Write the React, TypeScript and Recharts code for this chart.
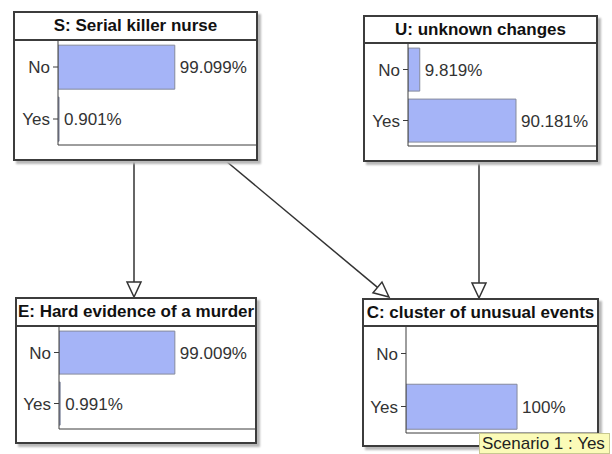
import React from "react";
import { BarChart, Bar, XAxis, YAxis, LabelList } from "recharts";

const states = ["No", "Yes"];

const serialKiller = [99.099, 0.901];
const unknownChanges = [9.819, 90.181];
const hardEvidence = [99.009, 0.991];
const clusterEvents = [0, 100];

const titles = [
    "S: Serial killer nurse",
    "U: unknown changes",
    "E: Hard evidence of a murder",
    "C: cluster of unusual events",
];

// upper end of each node's value axis (leaves room for the % label)
const axisMax = [168, 157, 167.5, 172];

const scenarioText = "Scenario 1 : Yes";

const FONT = "'Liberation Sans', Arial, sans-serif";
const BORDER = 2;

// box geometry: left, top, right, title bottom, y axis x, plot bottom, bottom
const boxes = [
    { left: 13, top: 11, right: 258, titleBottom: 41, axisX: 58, plotBottom: 145, bottom: 161 },
    { left: 363, top: 15, right: 598, titleBottom: 44, axisX: 408, plotBottom: 146, bottom: 162 },
    { left: 15, top: 297, right: 257, titleBottom: 327, axisX: 59, plotBottom: 429, bottom: 444 },
    { left: 362, top: 298, right: 599, titleBottom: 327, axisX: 406, plotBottom: 433, bottom: 447 },
];

const edges = [
    { x1: 134, y1: 161, x2: 134, y2: 297 },
    { x1: 226, y1: 161, x2: 389, y2: 297 },
    { x1: 479, y1: 162, x2: 479, y2: 298 },
];

const makeData = (values: number[]) =>
    states.map((s, i) => ({ state: s, value: values[i] }));

const Node = (props: { index: number; values: number[] }) => {
    const b = boxes[props.index];
    const w = b.right - b.left;
    const h = b.bottom - b.top;
    const innerW = w - BORDER * 2;
    const titleH = b.titleBottom - b.top - BORDER;
    const chartH = b.plotBottom - b.titleBottom + 1;

    return (
        <div
            style={{
                position: "absolute",
                left: b.left,
                top: b.top,
                width: w,
                height: h,
                boxSizing: "border-box",
                border: `${BORDER}px solid #3c3c3c`,
                background: "#fff",
                boxShadow: "3px 3px 2px #b8b8b8",
            }}
        >
            <div
                style={{
                    height: titleH,
                    boxSizing: "border-box",
                    borderBottom: `${BORDER}px solid #3c3c3c`,
                    fontFamily: FONT,
                    fontWeight: "bold",
                    fontSize: 17,
                    lineHeight: `${titleH - BORDER}px`,
                    textAlign: "center",
                    color: "#111",
                    whiteSpace: "nowrap",
                }}
            >
                {titles[props.index]}
            </div>
            <BarChart
                width={innerW}
                height={chartH}
                data={makeData(props.values)}
                layout="vertical"
                margin={{ top: 0, right: 0, bottom: 0, left: 0 }}
                barCategoryGap="8%"
            >
                <XAxis
                    type="number"
                    domain={[0, axisMax[props.index]]}
                    allowDataOverflow
                    tick={false}
                    tickLine={false}
                    height={1}
                    axisLine={{ stroke: "#3c3c3c" }}
                />
                <YAxis
                    type="category"
                    dataKey="state"
                    width={b.axisX - b.left - BORDER}
                    tickSize={5}
                    tickMargin={3}
                    axisLine={{ stroke: "#3c3c3c" }}
                    tickLine={{ stroke: "#3c3c3c" }}
                    tick={{ fill: "#333", fontSize: 17, fontFamily: FONT }}
                />
                <Bar
                    dataKey="value"
                    fill="#a5b4f7"
                    stroke="#858a9c"
                    strokeWidth={1}
                    isAnimationActive={false}
                >
                    <LabelList
                        dataKey="value"
                        position="right"
                        offset={5}
                        fill="#333"
                        fontSize={17}
                        fontFamily={FONT}
                        formatter={(v: any) => (Number(v) > 0 ? `${v}%` : "")}
                    />
                </Bar>
            </BarChart>
        </div>
    );
};

const Arrow = (props: { x1: number; y1: number; x2: number; y2: number }) => {
    const { x1, y1, x2, y2 } = props;
    const len = Math.hypot(x2 - x1, y2 - y1);
    const ux = (x2 - x1) / len;
    const uy = (y2 - y1) / len;
    const headLen = 15;
    const half = 7;
    const bx = x2 - ux * headLen;
    const by = y2 - uy * headLen;
    const pts = [
        [x2, y2],
        [bx - uy * half, by + ux * half],
        [bx + uy * half, by - ux * half],
    ]
        .map((p) => p.join(","))
        .join(" ");
    return (
        <g>
            <line x1={x1} y1={y1} x2={bx} y2={by} stroke="#333" strokeWidth={1.5} />
            <polygon points={pts} fill="#fff" stroke="#333" strokeWidth={1.5} />
        </g>
    );
};

const App = () => {
    const series = [serialKiller, unknownChanges, hardEvidence, clusterEvents];
    return (
        <div
            style={{
                position: "absolute",
                left: 0,
                top: 0,
                width: 612,
                height: 454,
                background: "#fff",
                overflow: "hidden",
            }}
        >
            <svg
                width={612}
                height={454}
                style={{ position: "absolute", left: 0, top: 0 }}
            >
                {edges.map((e, i) => (
                    <Arrow key={i} {...e} />
                ))}
            </svg>
            {series.map((vals, i) => (
                <Node key={i} index={i} values={vals} />
            ))}
            <div
                style={{
                    position: "absolute",
                    left: 479,
                    top: 433,
                    height: 21,
                    paddingLeft: 2,
                    paddingRight: 4,
                    boxSizing: "border-box",
                    background: "#fbfbb8",
                    border: "1px solid #c8c890",
                    fontFamily: FONT,
                    fontSize: 17,
                    lineHeight: "19px",
                    color: "#222",
                    whiteSpace: "nowrap",
                }}
            >
                {scenarioText}
            </div>
        </div>
    );
};

export default App;
